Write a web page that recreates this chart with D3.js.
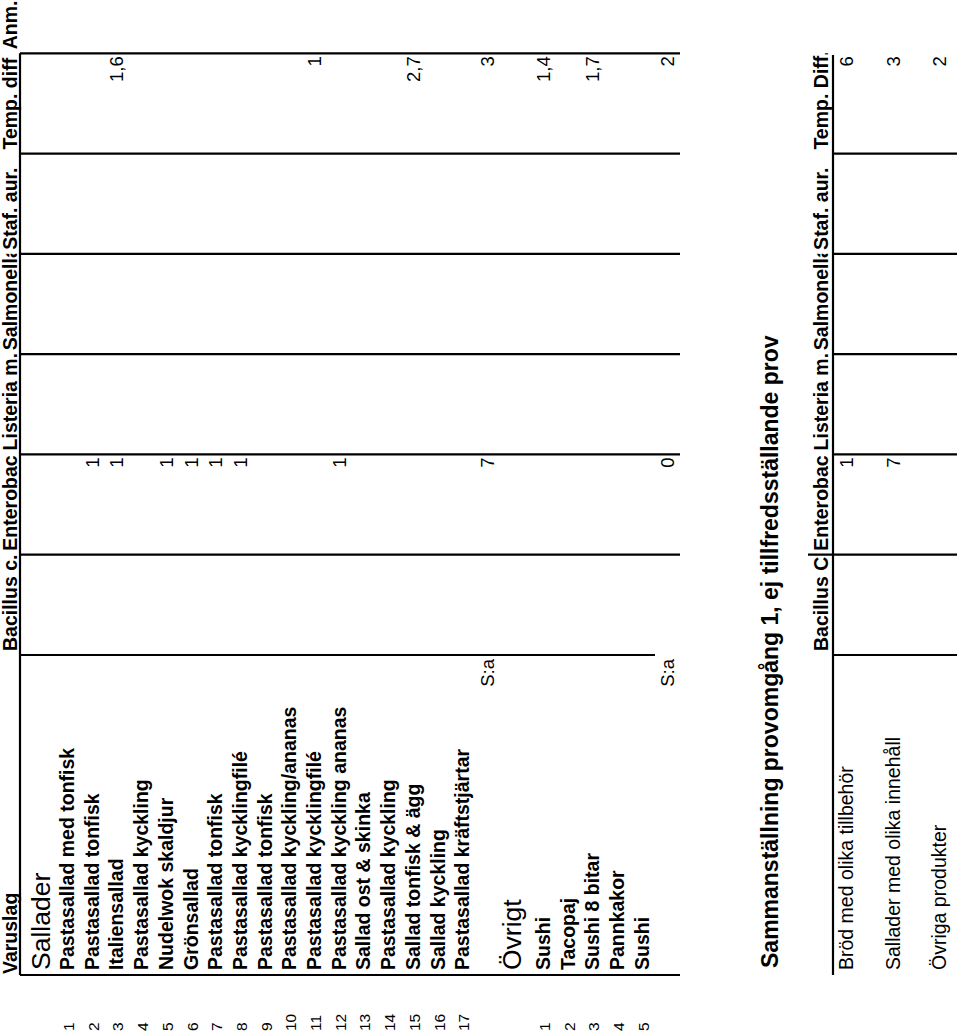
<!DOCTYPE html>
<html>
<head>
<meta charset="utf-8">
<script src="https://cdn.jsdelivr.net/npm/d3@7"></script>
<style>
  body { margin: 0; background: #fff; }
  svg { display: block; font-family: "Liberation Sans", Arial, sans-serif; }
</style>
</head>
<body>
<div id="chart"></div>
<script>
// data
var headers1 = ["Bacillus c.", "Enterobac", "Listeria m.", "Salmonella", "Staf. aur.", "Temp. diff", "Anm."]
var headers2 = ["Bacillus C", "Enterobac", "Listeria m.", "Salmonella", "Staf. aur.", "Temp. Diff."]

var salladerItems = ["Pastasallad med tonfisk", "Pastasallad tonfisk", "Italiensallad", "Pastasallad kyckling",
  "Nudelwok skaldjur", "Grönsallad", "Pastasallad tonfisk", "Pastasallad kycklingfilé", "Pastasallad tonfisk",
  "Pastasallad kyckling/ananas", "Pastasallad kycklingfilé", "Pastasallad kyckling ananas", "Sallad ost & skinka",
  "Pastasallad kyckling", "Sallad tonfisk & ägg", "Sallad kyckling", "Pastasallad kräftstjärtar"]
var salladerEnterobac = [null, 1, 1, null, 1, 1, 1, 1, null, null, null, 1, null, null, null, null, null]
var salladerTemp = [null, null, 1.6, null, null, null, null, null, null, null, 1, null, null, null, 2.7, null, null]

var ovrigtItems = ["Sushi", "Tacopaj", "Sushi 8 bitar", "Pannkakor", "Sushi"]
var ovrigtEnterobac = [null, null, null, null, null]
var ovrigtTemp = [1.4, null, 1.7, null, null]

var summaryGroups = ["Bröd med olika tillbehör", "Sallader med olika innehåll", "Övriga produkter"]
var summaryEnterobac = [1, 7, null]
var summaryTemp = [6, 3, 2]

var title = "Sammanställning provomgång 1, ej tillfredsställande prov"

// layout: the whole sheet is drawn rotated a quarter turn
var W = 960, H = 1035
var sv = d3.formatLocale({decimal: ",", thousands: " ", grouping: [3], currency: ["", " kr"]})
var fmt = sv.format(".2~f")

var svg = d3.select("#chart").append("svg")
    .attr("width", W)
    .attr("height", H)

svg.append("rect").attr("width", W).attr("height", H).attr("fill", "#fff")

// u runs along the table rows (bottom -> top on the page), v runs down the table (left -> right on page)
var g = svg.append("g").attr("transform", "translate(0," + H + ") rotate(-90)")

var col = d3.scaleBand().domain(headers1).range([380, 1082])
var col2 = d3.scaleBand().domain(headers2).range([380, 981.7])
var nameStart = 60

// rows of first table
var step = 24.7
var itemV = d3.scaleLinear().domain([0, 1]).range([74, 74 + step])
var itemV2 = d3.scaleLinear().domain([0, 1]).range([550, 550 + step])

var defs = svg.append("defs")
headers1.forEach(function(h, i) {
  defs.append("clipPath").attr("id", "hc" + i)
    .append("rect").attr("x", col(h)).attr("y", -40).attr("width", col.bandwidth()).attr("height", 80)
})
headers2.forEach(function(h, i) {
  defs.append("clipPath").attr("id", "hd" + i)
    .append("rect").attr("x", col2(h)).attr("y", 780).attr("width", col2.bandwidth()).attr("height", 80)
})

function line(x1, y1, x2, y2) {
  g.append("line")
    .attr("x1", x1).attr("y1", y1).attr("x2", x2).attr("y2", y2)
    .attr("stroke", "#000").attr("stroke-width", 2.2)
}

// ---- table 1 grid
line(nameStart, 20, col("Anm."), 20)
line(nameStart, 20, nameStart, 680)
line(col(headers1[0]), 20, col(headers1[0]), 655)
headers1.slice(1).forEach(function(h) { line(col(h), 20, col(h), 680) })

// headers
g.append("text").attr("x", nameStart + 1).attr("y", 16.5)
  .attr("font-size", 19.5).attr("font-weight", "bold").text("Varuslag")
g.selectAll(".h1").data(headers1).enter().append("text")
  .attr("clip-path", function(d, i) { return "url(#hc" + i + ")" })
  .attr("x", function(d) { return col(d) + 4 })
  .attr("y", 16.5)
  .attr("font-size", 19.5).attr("font-weight", "bold")
  .text(function(d) { return d })

function section(name, titleV, items, posV, entero, temp) {
  g.append("text").attr("x", nameStart + 5).attr("y", titleV)
    .attr("font-size", 26.5).text(name)

  g.selectAll(null).data(items).enter().append("text")
    .attr("x", 4).attr("y", function(d, i) { return posV(i) })
    .attr("font-size", 15.5).text(function(d, i) { return i + 1 })

  g.selectAll(null).data(items).enter().append("text")
    .attr("x", nameStart + 5).attr("y", function(d, i) { return posV(i) })
    .attr("font-size", 19.5).attr("font-weight", "bold")
    .text(function(d) { return d })

  var cells = []
  entero.forEach(function(v, i) { if (v != null) cells.push({c: "Enterobac", v: v, i: i}) })
  temp.forEach(function(v, i) { if (v != null) cells.push({c: "Temp. diff", v: v, i: i}) })

  g.selectAll(null).data(cells).enter().append("text")
    .attr("x", function(d) { return col(d.c) + col.bandwidth() - 3 })
    .attr("y", function(d) { return posV(d.i) })
    .attr("text-anchor", "end").attr("font-size", 18.5)
    .text(function(d) { return fmt(d.v) })

  // S:a row = number of remarks per column
  var n = items.length
  g.append("text").attr("x", col(headers1[0]) - 4).attr("y", posV(n))
    .attr("text-anchor", "end").attr("font-size", 18.5).text("S:a")
  var sums = [{c: "Enterobac", v: entero.filter(function(v) { return v != null }).length},
              {c: "Temp. diff", v: temp.filter(function(v) { return v != null }).length}]
  g.selectAll(null).data(sums).enter().append("text")
    .attr("x", function(d) { return col(d.c) + col.bandwidth() - 3 })
    .attr("y", posV(n))
    .attr("text-anchor", "end").attr("font-size", 18.5)
    .text(function(d) { return d.v })
}

section("Sallader", 50, salladerItems, itemV, salladerEnterobac, salladerTemp)
section("Övrigt", 521, ovrigtItems, itemV2, ovrigtEnterobac, ovrigtTemp)

// ---- table 2
g.append("text").attr("x", 67).attr("y", 778)
  .attr("font-size", 23).attr("font-weight", "bold").text(title)

line(nameStart, 833, 980, 833)
headers2.forEach(function(h, i) {
  if (i == 1) line(col2(h), 808, col2(h), 957)
  else line(col2(h), 833, col2(h), 957)
})
g.selectAll(".h2").data(headers2).enter().append("text")
  .attr("clip-path", function(d, i) { return "url(#hd" + i + ")" })
  .attr("x", function(d) { return col2(d) + 4 })
  .attr("y", 828)
  .attr("font-size", 19.5).attr("font-weight", "bold")
  .text(function(d) { return d })

var sumV = d3.scalePoint().domain(summaryGroups).range([853, 946])

g.selectAll(null).data(summaryGroups).enter().append("text")
  .attr("x", nameStart + 5).attr("y", function(d) { return sumV(d) })
  .attr("font-size", 19.5).text(function(d) { return d })

var cells2 = []
summaryGroups.forEach(function(gr, i) {
  if (summaryEnterobac[i] != null) cells2.push({c: "Enterobac", v: summaryEnterobac[i], gr: gr})
  if (summaryTemp[i] != null) cells2.push({c: "Temp. Diff.", v: summaryTemp[i], gr: gr})
})
g.selectAll(null).data(cells2).enter().append("text")
  .attr("x", function(d) { return col2(d.c) + col2.bandwidth() - 3 })
  .attr("y", function(d) { return sumV(d.gr) })
  .attr("text-anchor", "end").attr("font-size", 18.5)
  .text(function(d) { return fmt(d.v) })
</script>
</body>
</html>
